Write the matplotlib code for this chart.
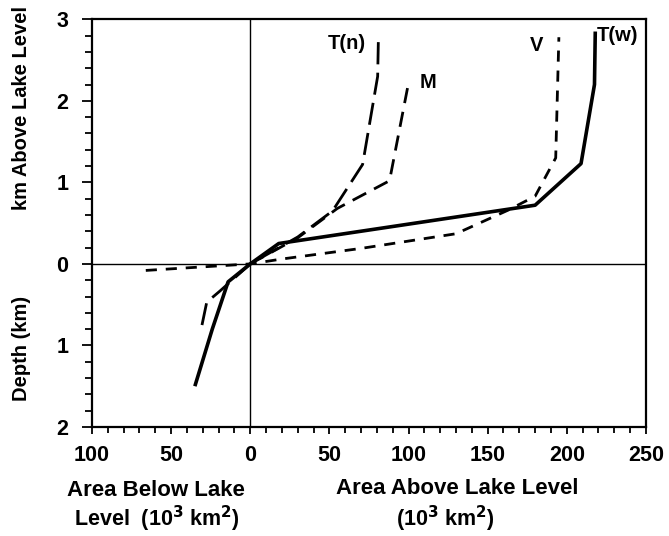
import numpy as np
import matplotlib
matplotlib.use("Agg")
import matplotlib.pyplot as plt
from matplotlib.ticker import MultipleLocator, FuncFormatter

plt.rcParams["font.family"] = ["Liberation Sans", "DejaVu Sans"]
plt.rcParams["font.weight"] = "bold"

# hypsometric curves: x = area (10^3 km^2, negative = below lake level), y = km
tw_x = [-35, -24, -14, 0, 18, 180, 209, 217.5, 218]
tw_y = [-1.5, -0.8, -0.22, 0, 0.25, 0.72, 1.23, 2.2, 2.85]

tn_x = [-30.5, -27.5, -19, 0, 30, 52, 71, 80.5, 81]
tn_y = [-0.75, -0.47, -0.33, 0, 0.33, 0.65, 1.22, 2.3, 2.8]

m_x = [0, 30, 55, 88, 100]
m_y = [0, 0.32, 0.68, 1.02, 2.22]

v_x = [-66, 0, 20, 70, 130, 163, 180, 193, 195]
v_y = [-0.08, 0, 0.06, 0.19, 0.37, 0.66, 0.83, 1.3, 2.78]

labels = ["T(n)", "M", "V", "T(w)"]
label_x = [61, 112, 181, 232]
label_y = [2.70, 2.22, 2.68, 2.80]

fig = plt.figure(figsize=(6.69, 5.36), dpi=100)
ax = fig.add_axes([0.1375, 0.2034, 0.828, 0.7606])

ax.axhline(0, color="black", lw=1.0)
ax.axvline(0, color="black", lw=1.0)

ax.plot(tw_x, tw_y, color="black", lw=2.6, solid_capstyle="butt")
ax.plot(tn_x, tn_y, color="black", lw=2.0, dashes=(8, 3))
ax.plot(m_x, m_y, color="black", lw=2.0, dashes=(5.5, 3.2))
ax.plot(v_x, v_y, color="black", lw=2.0, dashes=(4, 3.2))

for t, lx, ly in zip(labels, label_x, label_y):
    ax.text(lx, ly, t, ha="center", va="center", fontsize=14.5, fontweight="bold")

ax.set_xlim(-100, 250)
ax.set_ylim(-2, 3)
ax.xaxis.set_major_locator(MultipleLocator(50))
ax.xaxis.set_minor_locator(MultipleLocator(10))
ax.yaxis.set_major_locator(MultipleLocator(1))
ax.yaxis.set_minor_locator(MultipleLocator(0.2))
absfmt = FuncFormatter(lambda v, p: "%d" % abs(round(v)))
ax.xaxis.set_major_formatter(absfmt)
ax.yaxis.set_major_formatter(absfmt)
ax.tick_params(axis="both", which="both", direction="out", width=1.3, labelsize=15.5)
ax.tick_params(axis="x", which="major", length=5, pad=8)
ax.tick_params(axis="x", which="minor", length=4)
ax.tick_params(axis="y", which="major", length=7, pad=10)
ax.tick_params(axis="y", which="minor", length=5)
for s in ax.spines.values():
    s.set_linewidth(1.6)

W, H = 669, 536
def ftext(px, py, s, size=16, **kw):
    fig.text(px / W, 1 - py / H, s, ha="center", va="center",
             fontsize=size, fontweight="bold", **kw)

ftext(22, 108, "km Above Lake Level", size=14.5, rotation=90)
ftext(22, 348, "Depth (km)", size=14.5, rotation=90)
ftext(156, 491, "Area Below Lake")
ftext(157, 519, "Level  (10$^3$ km$^2$)", size=15.5)
ftext(457, 489, "Area Above Lake Level")
ftext(445, 519, "(10$^3$ km$^2$)", size=15.5)

fig.savefig("out.png", dpi=100)
